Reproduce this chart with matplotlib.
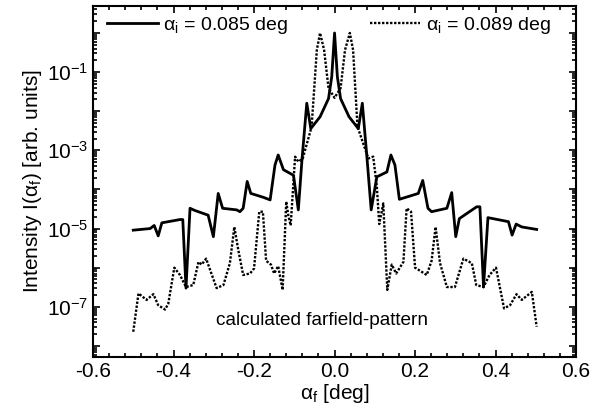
import numpy as np
import matplotlib
matplotlib.use('Agg')
import matplotlib.pyplot as plt
from matplotlib.ticker import LogLocator, FuncFormatter, MultipleLocator, NullFormatter

plt.rcParams['font.family'] = ['Liberation Sans', 'DejaVu Sans']
plt.rcParams['mathtext.fontset'] = 'custom'
plt.rcParams['mathtext.rm'] = 'Liberation Sans'
plt.rcParams['mathtext.it'] = 'Liberation Sans:italic'

# alpha_i = 0.085 deg (solid)
x_085 = [-0.500, -0.458, -0.448, -0.438, -0.429, -0.384, -0.377, -0.369, -0.359, -0.347,
         -0.314, -0.301, -0.289, -0.278, -0.243, -0.235, -0.227, -0.217, -0.208, -0.177,
         -0.160, -0.148, -0.140, -0.127, -0.102, -0.090, -0.081, -0.069, -0.059, -0.036,
         -0.015, -0.007, 0.000, 0.007, 0.015, 0.036, 0.059, 0.069, 0.081, 0.091,
         0.105, 0.130, 0.140, 0.150, 0.161, 0.208, 0.219, 0.232, 0.241, 0.279,
         0.291, 0.301, 0.310, 0.353, 0.361, 0.370, 0.381, 0.432, 0.441, 0.451,
         0.465, 0.502]
I_085 = [9.1e-6, 1.0e-5, 1.2e-5, 6.5e-6, 1.4e-5, 1.7e-5, 1.7e-5, 3.0e-7, 3.3e-5, 2.9e-5,
         2.2e-5, 6.2e-6, 7.9e-5, 3.3e-5, 3.0e-5, 2.7e-5, 3.3e-5, 1.6e-4, 7.9e-5, 6.3e-5,
         5.4e-5, 4.2e-4, 7.6e-4, 3.2e-4, 2.3e-4, 3.0e-5, 5.6e-4, 1.6e-2, 3.6e-3, 7.2e-3,
         2.1e-2, 7.6e-2, 1.0, 7.6e-2, 2.1e-2, 7.2e-3, 3.6e-3, 1.6e-2, 5.6e-4, 3.0e-5,
         2.1e-4, 2.8e-4, 7.6e-4, 4.2e-4, 5.6e-5, 7.9e-5, 1.7e-4, 3.3e-5, 2.7e-5, 3.3e-5,
         8.3e-5, 6.2e-6, 1.8e-5, 3.6e-5, 3.6e-5, 3.2e-7, 1.9e-5, 1.5e-5, 6.8e-6, 1.3e-5,
         1.1e-5, 9.5e-6]

# alpha_i = 0.089 deg (dotted)
x_089 = [-0.500, -0.487, -0.467, -0.450, -0.438, -0.421, -0.413, -0.398, -0.384, -0.369,
         -0.351, -0.338, -0.330, -0.319, -0.293, -0.276, -0.260, -0.249, -0.239, -0.227,
         -0.210, -0.200, -0.187, -0.178, -0.170, -0.158, -0.150, -0.140, -0.129, -0.120,
         -0.115, -0.109, -0.098, -0.090, -0.079, -0.057, -0.044, -0.036, -0.026, -0.015,
         0.000, 0.015, 0.026, 0.038, 0.046, 0.057, 0.084, 0.096, 0.105, 0.111,
         0.121, 0.131, 0.142, 0.153, 0.171, 0.179, 0.190, 0.200, 0.229, 0.241,
         0.251, 0.262, 0.279, 0.299, 0.320, 0.341, 0.352, 0.370, 0.385, 0.401,
         0.421, 0.436, 0.452, 0.465, 0.490, 0.502]
I_089 = [2.3e-8, 2.2e-7, 1.5e-7, 2.1e-7, 1.1e-7, 8.5e-8, 1.2e-7, 1.0e-6, 6.5e-7, 3.2e-7,
         3.6e-7, 1.4e-6, 1.2e-6, 1.7e-6, 3.0e-7, 3.6e-7, 1.3e-6, 1.1e-5, 2.8e-6, 6.5e-7,
         7.1e-7, 9.5e-7, 2.7e-5, 2.7e-5, 1.5e-6, 1.2e-6, 7.1e-7, 1.1e-6, 2.7e-7, 4.9e-5,
         2.2e-5, 1.2e-5, 6.9e-4, 5.1e-4, 6.2e-4, 4.0e-3, 3.7e-1, 1.0, 3.7e-1, 3.9e-2,
         2.2e-2, 3.9e-2, 3.7e-1, 1.0, 3.7e-1, 4.0e-3, 6.2e-4, 6.9e-4, 1.2e-4, 1.3e-5,
         4.4e-5, 2.7e-7, 1.2e-6, 7.1e-7, 1.4e-6, 3.3e-5, 2.7e-5, 1.0e-6, 6.5e-7, 1.5e-6,
         1.1e-5, 1.3e-6, 3.2e-7, 3.2e-7, 1.7e-6, 1.3e-6, 3.6e-7, 3.2e-7, 6.5e-7, 1.0e-6,
         9.1e-8, 1.1e-7, 2.1e-7, 1.5e-7, 2.4e-7, 3.1e-8]

fig = plt.figure(figsize=(6.09, 4.16), dpi=100)
ax = fig.add_axes([0.1527, 0.1418, 0.7933, 0.8438])

ax.plot(x_085, I_085, color='black', lw=2.0, label=r'$\mathregular{\alpha_i}$ = 0.085 deg')
ax.plot(x_089, I_089, color='black', lw=1.7, linestyle=(0, (1, 0.7)),
        label=r'$\mathregular{\alpha_i}$ = 0.089 deg')

ax.set_yscale('log')
ax.set_xlim(-0.6, 0.6)
ax.set_ylim(5.2e-9, 4.9)

ax.xaxis.set_major_locator(MultipleLocator(0.2))
ax.xaxis.set_minor_locator(MultipleLocator(0.04))
ax.xaxis.set_major_formatter(FuncFormatter(lambda v, p: '%.1f' % v))

ax.yaxis.set_major_locator(LogLocator(base=10, numticks=20))
ax.yaxis.set_minor_locator(LogLocator(base=10, subs=np.arange(2, 10), numticks=20))
ax.yaxis.set_minor_formatter(NullFormatter())

def ylab(v, p):
    e = int(round(np.log10(v)))
    if e % 2 == 0:
        return ''
    return r'$\mathregular{10^{%d}}$' % e

ax.yaxis.set_major_formatter(FuncFormatter(ylab))

ax.tick_params(which='both', direction='in', top=True, right=True, width=1.2, labelsize=15)
ax.tick_params(which='major', length=5)
ax.tick_params(which='minor', length=3)
for s in ax.spines.values():
    s.set_linewidth(1.5)

ax.set_xlabel(r'$\mathregular{\alpha_f}$ [deg]', fontsize=15, labelpad=1)
ax.set_ylabel(r'Intensity I($\mathregular{\alpha_f}$) [arb. units]', fontsize=15, labelpad=2)

ax.legend(loc='upper left', bbox_to_anchor=(0.029, 0.975), ncol=2, frameon=False,
          fontsize=14, handlelength=2.6, handletextpad=0.3, columnspacing=4.2,
          borderpad=0, borderaxespad=0)

ax.text(-0.03, 10**-7.34, 'calculated farfield-pattern', fontsize=13.7, ha='center', va='center')

fig.savefig('out.png', dpi=100)
